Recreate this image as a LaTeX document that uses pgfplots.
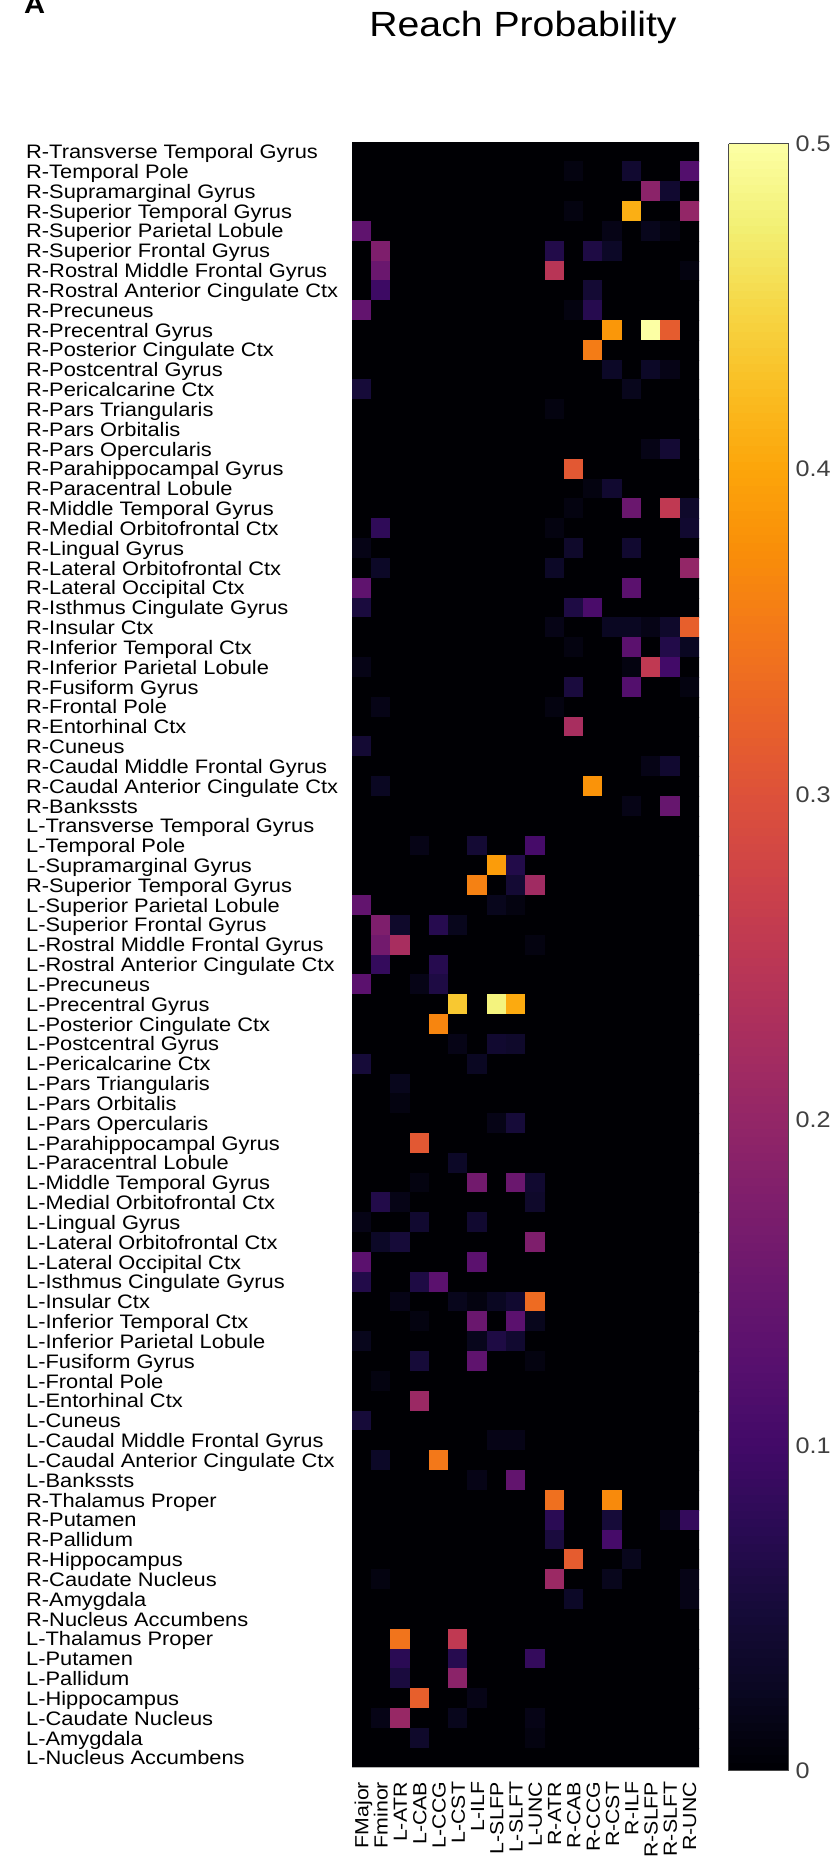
\documentclass[border=0pt]{standalone}
\usepackage{fontspec}
\setmainfont{Liberation Sans}[FakeStretch=1.12]
\usepackage{pgfplots}
\pgfplotsset{compat=1.18}
\definecolor{cbgray}{HTML}{4A4A4A}
\definecolor{lblgray}{HTML}{404040}
\begin{document}
\begin{tikzpicture}
\useasboundingbox (0,0) rectangle (834bp,-1861bp);
\node[anchor=base, inner sep=0pt, font=\fontsize{35bp}{40bp}\selectfont] at (523bp,-36bp) {Reach Probability};
\node[anchor=base west, inner sep=0pt, font=\fontsize{26bp}{30bp}\selectfont\bfseries] at (24bp,-13bp) {A};
\begin{axis}[
  at={(352bp,-1767.7bp)}, anchor=south west,
  scale only axis, width=347bp, height=1626bp,
  xmin=-0.5, xmax=17.5, ymin=-0.5, ymax=81.5, y dir=reverse,
  enlargelimits=false,
  axis line style={draw=none},
  major tick length=0pt,
  xtick={0,...,17}, ytick={0,...,81},
  xticklabels={FMajor,Fminor,L-ATR,L-CAB,L-CCG,L-CST,L-ILF,L-SLFP,L-SLFT,L-UNC,R-ATR,R-CAB,R-CCG,R-CST,R-ILF,R-SLFP,R-SLFT,R-UNC},
  yticklabels={R-Transverse Temporal Gyrus,R-Temporal Pole,R-Supramarginal Gyrus,R-Superior Temporal Gyrus,R-Superior Parietal Lobule,R-Superior Frontal Gyrus,R-Rostral Middle Frontal Gyrus,R-Rostral Anterior Cingulate Ctx,R-Precuneus,R-Precentral Gyrus,R-Posterior Cingulate Ctx,R-Postcentral Gyrus,R-Pericalcarine Ctx,R-Pars Triangularis,R-Pars Orbitalis,R-Pars Opercularis,R-Parahippocampal Gyrus,R-Paracentral Lobule,R-Middle Temporal Gyrus,R-Medial Orbitofrontal Ctx,R-Lingual Gyrus,R-Lateral Orbitofrontal Ctx,R-Lateral Occipital Ctx,R-Isthmus Cingulate Gyrus,R-Insular Ctx,R-Inferior Temporal Ctx,R-Inferior Parietal Lobule,R-Fusiform Gyrus,R-Frontal Pole,R-Entorhinal Ctx,R-Cuneus,R-Caudal Middle Frontal Gyrus,R-Caudal Anterior Cingulate Ctx,R-Bankssts,L-Transverse Temporal Gyrus,L-Temporal Pole,L-Supramarginal Gyrus,R-Superior Temporal Gyrus,L-Superior Parietal Lobule,L-Superior Frontal Gyrus,L-Rostral Middle Frontal Gyrus,L-Rostral Anterior Cingulate Ctx,L-Precuneus,L-Precentral Gyrus,L-Posterior Cingulate Ctx,L-Postcentral Gyrus,L-Pericalcarine Ctx,L-Pars Triangularis,L-Pars Orbitalis,L-Pars Opercularis,L-Parahippocampal Gyrus,L-Paracentral Lobule,L-Middle Temporal Gyrus,L-Medial Orbitofrontal Ctx,L-Lingual Gyrus,L-Lateral Orbitofrontal Ctx,L-Lateral Occipital Ctx,L-Isthmus Cingulate Gyrus,L-Insular Ctx,L-Inferior Temporal Ctx,L-Inferior Parietal Lobule,L-Fusiform Gyrus,L-Frontal Pole,L-Entorhinal Ctx,L-Cuneus,L-Caudal Middle Frontal Gyrus,L-Caudal Anterior Cingulate Ctx,L-Bankssts,R-Thalamus Proper,R-Putamen,R-Pallidum,R-Hippocampus,R-Caudate Nucleus,R-Amygdala,R-Nucleus Accumbens,L-Thalamus Proper,L-Putamen,L-Pallidum,L-Hippocampus,L-Caudate Nucleus,L-Amygdala,L-Nucleus Accumbens},
  yticklabel style={anchor=base west, inner sep=0pt, xshift=-326bp, yshift=-7bp, font=\fontsize{19.5bp}{20bp}\selectfont},
  xticklabel style={xshift=6.8bp, yshift=-14bp, rotate=90, anchor=base east, inner sep=0pt, font=\fontsize{19bp}{20bp}\selectfont},
  colormap={inferno}{rgb255=(0,0,4) rgb255=(10,7,34) rgb255=(22,11,57) rgb255=(42,11,84) rgb255=(66,10,104) rgb255=(87,16,110) rgb255=(106,23,110) rgb255=(126,30,108) rgb255=(147,38,103) rgb255=(168,46,95) rgb255=(188,55,84) rgb255=(206,67,72) rgb255=(221,81,58) rgb255=(234,99,40) rgb255=(243,120,25) rgb255=(249,142,9) rgb255=(252,165,10) rgb255=(250,190,35) rgb255=(246,215,70) rgb255=(242,240,116) rgb255=(252,255,164)},
  point meta min=0, point meta max=0.5,
  colorbar sampled,
  colorbar style={
    at={(parent axis.north east)}, anchor=north west, xshift=21bp, yshift=-2bp,
    scale only axis, width=60bp, height=1627bp,
    samples=201,
    ytick={0,0.1,0.2,0.3,0.4,0.5},
    major tick length=0pt,
    axis line style={draw=cbgray, line width=1.3bp},
    axis on top,
    /pgf/number format/assume math mode=true,
    /pgf/number format/fixed,
    yticklabel style={inner sep=0pt, xshift=7bp, text=lblgray, font=\fontsize{22.5bp}{24bp}\selectfont},
  },
  extra description/.code={\draw[gray!60, line width=1bp] (axis description cs:0,0) -- (axis description cs:1,0);},
]
\addplot[matrix plot*, mesh/cols=18, point meta=explicit]
  table[row sep=\\, header=false, x expr={round(mod(\coordindex,18))}, y expr={round((\coordindex-mod(\coordindex,18))/18)}, meta index=0] {
0 \\ 0 \\ 0 \\ 0 \\ 0 \\ 0 \\ 0 \\ 0 \\ 0 \\ 0 \\ 0 \\ 0 \\ 0 \\ 0 \\ 0 \\ 0 \\ 0 \\ 0 \\
0 \\ 0 \\ 0 \\ 0 \\ 0 \\ 0 \\ 0 \\ 0 \\ 0 \\ 0 \\ 0 \\ 0.01 \\ 0 \\ 0 \\ 0.04 \\ 0 \\ 0 \\ 0.12 \\
0 \\ 0 \\ 0 \\ 0 \\ 0 \\ 0 \\ 0 \\ 0 \\ 0 \\ 0 \\ 0 \\ 0 \\ 0 \\ 0 \\ 0 \\ 0.19 \\ 0.04 \\ 0 \\
0 \\ 0 \\ 0 \\ 0 \\ 0 \\ 0 \\ 0 \\ 0 \\ 0 \\ 0 \\ 0 \\ 0.01 \\ 0 \\ 0 \\ 0.41 \\ 0 \\ 0 \\ 0.2 \\
0.135 \\ 0 \\ 0 \\ 0 \\ 0 \\ 0 \\ 0 \\ 0 \\ 0 \\ 0 \\ 0 \\ 0 \\ 0 \\ 0.015 \\ 0 \\ 0.02 \\ 0.01 \\ 0 \\
0 \\ 0.175 \\ 0 \\ 0 \\ 0 \\ 0 \\ 0 \\ 0 \\ 0 \\ 0 \\ 0.065 \\ 0 \\ 0.06 \\ 0.03 \\ 0 \\ 0 \\ 0 \\ 0 \\
0 \\ 0.15 \\ 0 \\ 0 \\ 0 \\ 0 \\ 0 \\ 0 \\ 0 \\ 0 \\ 0.245 \\ 0 \\ 0 \\ 0 \\ 0 \\ 0 \\ 0 \\ 0.01 \\
0 \\ 0.095 \\ 0 \\ 0 \\ 0 \\ 0 \\ 0 \\ 0 \\ 0 \\ 0 \\ 0 \\ 0 \\ 0.045 \\ 0 \\ 0 \\ 0 \\ 0 \\ 0 \\
0.14 \\ 0 \\ 0 \\ 0 \\ 0 \\ 0 \\ 0 \\ 0 \\ 0 \\ 0 \\ 0 \\ 0.01 \\ 0.07 \\ 0 \\ 0 \\ 0 \\ 0 \\ 0 \\
0 \\ 0 \\ 0 \\ 0 \\ 0 \\ 0 \\ 0 \\ 0 \\ 0 \\ 0 \\ 0 \\ 0 \\ 0 \\ 0.385 \\ 0 \\ 0.5 \\ 0.315 \\ 0 \\
0 \\ 0 \\ 0 \\ 0 \\ 0 \\ 0 \\ 0 \\ 0 \\ 0 \\ 0 \\ 0 \\ 0 \\ 0.355 \\ 0 \\ 0 \\ 0 \\ 0 \\ 0 \\
0 \\ 0 \\ 0 \\ 0 \\ 0 \\ 0 \\ 0 \\ 0 \\ 0 \\ 0 \\ 0 \\ 0 \\ 0 \\ 0.03 \\ 0 \\ 0.03 \\ 0.015 \\ 0 \\
0.05 \\ 0 \\ 0 \\ 0 \\ 0 \\ 0 \\ 0 \\ 0 \\ 0 \\ 0 \\ 0 \\ 0 \\ 0 \\ 0 \\ 0.02 \\ 0 \\ 0 \\ 0 \\
0 \\ 0 \\ 0 \\ 0 \\ 0 \\ 0 \\ 0 \\ 0 \\ 0 \\ 0 \\ 0.01 \\ 0 \\ 0 \\ 0 \\ 0 \\ 0 \\ 0 \\ 0 \\
0 \\ 0 \\ 0 \\ 0 \\ 0 \\ 0 \\ 0 \\ 0 \\ 0 \\ 0 \\ 0 \\ 0 \\ 0 \\ 0 \\ 0 \\ 0 \\ 0 \\ 0 \\
0 \\ 0 \\ 0 \\ 0 \\ 0 \\ 0 \\ 0 \\ 0 \\ 0 \\ 0 \\ 0 \\ 0 \\ 0 \\ 0 \\ 0 \\ 0.015 \\ 0.045 \\ 0 \\
0 \\ 0 \\ 0 \\ 0 \\ 0 \\ 0 \\ 0 \\ 0 \\ 0 \\ 0 \\ 0 \\ 0.31 \\ 0 \\ 0 \\ 0 \\ 0 \\ 0 \\ 0 \\
0 \\ 0 \\ 0 \\ 0 \\ 0 \\ 0 \\ 0 \\ 0 \\ 0 \\ 0 \\ 0 \\ 0 \\ 0.01 \\ 0.04 \\ 0 \\ 0 \\ 0 \\ 0 \\
0 \\ 0 \\ 0 \\ 0 \\ 0 \\ 0 \\ 0 \\ 0 \\ 0 \\ 0 \\ 0 \\ 0.01 \\ 0 \\ 0 \\ 0.15 \\ 0 \\ 0.255 \\ 0.035 \\
0 \\ 0.08 \\ 0 \\ 0 \\ 0 \\ 0 \\ 0 \\ 0 \\ 0 \\ 0 \\ 0.01 \\ 0 \\ 0 \\ 0 \\ 0 \\ 0 \\ 0 \\ 0.04 \\
0.015 \\ 0 \\ 0 \\ 0 \\ 0 \\ 0 \\ 0 \\ 0 \\ 0 \\ 0 \\ 0 \\ 0.035 \\ 0 \\ 0 \\ 0.04 \\ 0 \\ 0 \\ 0 \\
0 \\ 0.03 \\ 0 \\ 0 \\ 0 \\ 0 \\ 0 \\ 0 \\ 0 \\ 0 \\ 0.03 \\ 0 \\ 0 \\ 0 \\ 0 \\ 0 \\ 0 \\ 0.2 \\
0.135 \\ 0 \\ 0 \\ 0 \\ 0 \\ 0 \\ 0 \\ 0 \\ 0 \\ 0 \\ 0 \\ 0 \\ 0 \\ 0 \\ 0.13 \\ 0 \\ 0 \\ 0 \\
0.055 \\ 0 \\ 0 \\ 0 \\ 0 \\ 0 \\ 0 \\ 0 \\ 0 \\ 0 \\ 0 \\ 0.06 \\ 0.11 \\ 0 \\ 0 \\ 0 \\ 0 \\ 0 \\
0 \\ 0 \\ 0 \\ 0 \\ 0 \\ 0 \\ 0 \\ 0 \\ 0 \\ 0 \\ 0.015 \\ 0 \\ 0 \\ 0.025 \\ 0.025 \\ 0.015 \\ 0.035 \\ 0.32 \\
0 \\ 0 \\ 0 \\ 0 \\ 0 \\ 0 \\ 0 \\ 0 \\ 0 \\ 0 \\ 0 \\ 0.01 \\ 0 \\ 0 \\ 0.13 \\ 0 \\ 0.065 \\ 0.025 \\
0.015 \\ 0 \\ 0 \\ 0 \\ 0 \\ 0 \\ 0 \\ 0 \\ 0 \\ 0 \\ 0 \\ 0 \\ 0 \\ 0 \\ 0.01 \\ 0.255 \\ 0.1 \\ 0 \\
0 \\ 0 \\ 0 \\ 0 \\ 0 \\ 0 \\ 0 \\ 0 \\ 0 \\ 0 \\ 0 \\ 0.055 \\ 0 \\ 0 \\ 0.12 \\ 0 \\ 0 \\ 0.01 \\
0 \\ 0.015 \\ 0 \\ 0 \\ 0 \\ 0 \\ 0 \\ 0 \\ 0 \\ 0 \\ 0.01 \\ 0 \\ 0 \\ 0 \\ 0 \\ 0 \\ 0 \\ 0 \\
0 \\ 0 \\ 0 \\ 0 \\ 0 \\ 0 \\ 0 \\ 0 \\ 0 \\ 0 \\ 0 \\ 0.225 \\ 0 \\ 0 \\ 0 \\ 0 \\ 0 \\ 0 \\
0.045 \\ 0 \\ 0 \\ 0 \\ 0 \\ 0 \\ 0 \\ 0 \\ 0 \\ 0 \\ 0 \\ 0 \\ 0 \\ 0 \\ 0 \\ 0 \\ 0 \\ 0 \\
0 \\ 0 \\ 0 \\ 0 \\ 0 \\ 0 \\ 0 \\ 0 \\ 0 \\ 0 \\ 0 \\ 0 \\ 0 \\ 0 \\ 0 \\ 0.015 \\ 0.04 \\ 0 \\
0 \\ 0.025 \\ 0 \\ 0 \\ 0 \\ 0 \\ 0 \\ 0 \\ 0 \\ 0 \\ 0 \\ 0 \\ 0.38 \\ 0 \\ 0 \\ 0 \\ 0 \\ 0 \\
0 \\ 0 \\ 0 \\ 0 \\ 0 \\ 0 \\ 0 \\ 0 \\ 0 \\ 0 \\ 0 \\ 0 \\ 0 \\ 0 \\ 0.015 \\ 0 \\ 0.145 \\ 0 \\
0 \\ 0 \\ 0 \\ 0 \\ 0 \\ 0 \\ 0 \\ 0 \\ 0 \\ 0 \\ 0 \\ 0 \\ 0 \\ 0 \\ 0 \\ 0 \\ 0 \\ 0 \\
0 \\ 0 \\ 0 \\ 0.015 \\ 0 \\ 0 \\ 0.045 \\ 0 \\ 0 \\ 0.105 \\ 0 \\ 0 \\ 0 \\ 0 \\ 0 \\ 0 \\ 0 \\ 0 \\
0 \\ 0 \\ 0 \\ 0 \\ 0 \\ 0 \\ 0 \\ 0.39 \\ 0.065 \\ 0 \\ 0 \\ 0 \\ 0 \\ 0 \\ 0 \\ 0 \\ 0 \\ 0 \\
0 \\ 0 \\ 0 \\ 0 \\ 0 \\ 0 \\ 0.36 \\ 0 \\ 0.045 \\ 0.215 \\ 0 \\ 0 \\ 0 \\ 0 \\ 0 \\ 0 \\ 0 \\ 0 \\
0.14 \\ 0 \\ 0 \\ 0 \\ 0 \\ 0 \\ 0 \\ 0.02 \\ 0.01 \\ 0 \\ 0 \\ 0 \\ 0 \\ 0 \\ 0 \\ 0 \\ 0 \\ 0 \\
0 \\ 0.175 \\ 0.035 \\ 0 \\ 0.07 \\ 0.02 \\ 0 \\ 0 \\ 0 \\ 0 \\ 0 \\ 0 \\ 0 \\ 0 \\ 0 \\ 0 \\ 0 \\ 0 \\
0 \\ 0.16 \\ 0.225 \\ 0 \\ 0 \\ 0 \\ 0 \\ 0 \\ 0 \\ 0.01 \\ 0 \\ 0 \\ 0 \\ 0 \\ 0 \\ 0 \\ 0 \\ 0 \\
0 \\ 0.085 \\ 0 \\ 0 \\ 0.07 \\ 0 \\ 0 \\ 0 \\ 0 \\ 0 \\ 0 \\ 0 \\ 0 \\ 0 \\ 0 \\ 0 \\ 0 \\ 0 \\
0.13 \\ 0 \\ 0 \\ 0.015 \\ 0.06 \\ 0 \\ 0 \\ 0 \\ 0 \\ 0 \\ 0 \\ 0 \\ 0 \\ 0 \\ 0 \\ 0 \\ 0 \\ 0 \\
0 \\ 0 \\ 0 \\ 0 \\ 0 \\ 0.435 \\ 0 \\ 0.48 \\ 0.405 \\ 0 \\ 0 \\ 0 \\ 0 \\ 0 \\ 0 \\ 0 \\ 0 \\ 0 \\
0 \\ 0 \\ 0 \\ 0 \\ 0.365 \\ 0 \\ 0 \\ 0 \\ 0 \\ 0 \\ 0 \\ 0 \\ 0 \\ 0 \\ 0 \\ 0 \\ 0 \\ 0 \\
0 \\ 0 \\ 0 \\ 0 \\ 0 \\ 0.015 \\ 0 \\ 0.04 \\ 0.035 \\ 0 \\ 0 \\ 0 \\ 0 \\ 0 \\ 0 \\ 0 \\ 0 \\ 0 \\
0.05 \\ 0 \\ 0 \\ 0 \\ 0 \\ 0 \\ 0.025 \\ 0 \\ 0 \\ 0 \\ 0 \\ 0 \\ 0 \\ 0 \\ 0 \\ 0 \\ 0 \\ 0 \\
0 \\ 0 \\ 0.02 \\ 0 \\ 0 \\ 0 \\ 0 \\ 0 \\ 0 \\ 0 \\ 0 \\ 0 \\ 0 \\ 0 \\ 0 \\ 0 \\ 0 \\ 0 \\
0 \\ 0 \\ 0.01 \\ 0 \\ 0 \\ 0 \\ 0 \\ 0 \\ 0 \\ 0 \\ 0 \\ 0 \\ 0 \\ 0 \\ 0 \\ 0 \\ 0 \\ 0 \\
0 \\ 0 \\ 0 \\ 0 \\ 0 \\ 0 \\ 0 \\ 0.015 \\ 0.05 \\ 0 \\ 0 \\ 0 \\ 0 \\ 0 \\ 0 \\ 0 \\ 0 \\ 0 \\
0 \\ 0 \\ 0 \\ 0.31 \\ 0 \\ 0 \\ 0 \\ 0 \\ 0 \\ 0 \\ 0 \\ 0 \\ 0 \\ 0 \\ 0 \\ 0 \\ 0 \\ 0 \\
0 \\ 0 \\ 0 \\ 0 \\ 0 \\ 0.03 \\ 0 \\ 0 \\ 0 \\ 0 \\ 0 \\ 0 \\ 0 \\ 0 \\ 0 \\ 0 \\ 0 \\ 0 \\
0 \\ 0 \\ 0 \\ 0.01 \\ 0 \\ 0 \\ 0.16 \\ 0 \\ 0.15 \\ 0.04 \\ 0 \\ 0 \\ 0 \\ 0 \\ 0 \\ 0 \\ 0 \\ 0 \\
0 \\ 0.065 \\ 0.015 \\ 0 \\ 0 \\ 0 \\ 0 \\ 0 \\ 0 \\ 0.035 \\ 0 \\ 0 \\ 0 \\ 0 \\ 0 \\ 0 \\ 0 \\ 0 \\
0.015 \\ 0 \\ 0 \\ 0.04 \\ 0 \\ 0 \\ 0.04 \\ 0 \\ 0 \\ 0 \\ 0 \\ 0 \\ 0 \\ 0 \\ 0 \\ 0 \\ 0 \\ 0 \\
0 \\ 0.03 \\ 0.05 \\ 0 \\ 0 \\ 0 \\ 0 \\ 0 \\ 0 \\ 0.175 \\ 0 \\ 0 \\ 0 \\ 0 \\ 0 \\ 0 \\ 0 \\ 0 \\
0.13 \\ 0 \\ 0 \\ 0 \\ 0 \\ 0 \\ 0.13 \\ 0 \\ 0 \\ 0 \\ 0 \\ 0 \\ 0 \\ 0 \\ 0 \\ 0 \\ 0 \\ 0 \\
0.065 \\ 0 \\ 0 \\ 0.06 \\ 0.13 \\ 0 \\ 0 \\ 0 \\ 0 \\ 0 \\ 0 \\ 0 \\ 0 \\ 0 \\ 0 \\ 0 \\ 0 \\ 0 \\
0 \\ 0 \\ 0.015 \\ 0 \\ 0 \\ 0.02 \\ 0.01 \\ 0.025 \\ 0.04 \\ 0.335 \\ 0 \\ 0 \\ 0 \\ 0 \\ 0 \\ 0 \\ 0 \\ 0 \\
0 \\ 0 \\ 0 \\ 0.01 \\ 0 \\ 0 \\ 0.15 \\ 0 \\ 0.13 \\ 0.02 \\ 0 \\ 0 \\ 0 \\ 0 \\ 0 \\ 0 \\ 0 \\ 0 \\
0.02 \\ 0 \\ 0 \\ 0 \\ 0 \\ 0 \\ 0.02 \\ 0.06 \\ 0.04 \\ 0 \\ 0 \\ 0 \\ 0 \\ 0 \\ 0 \\ 0 \\ 0 \\ 0 \\
0 \\ 0 \\ 0 \\ 0.05 \\ 0 \\ 0 \\ 0.135 \\ 0 \\ 0 \\ 0.01 \\ 0 \\ 0 \\ 0 \\ 0 \\ 0 \\ 0 \\ 0 \\ 0 \\
0 \\ 0.01 \\ 0 \\ 0 \\ 0 \\ 0 \\ 0 \\ 0 \\ 0 \\ 0 \\ 0 \\ 0 \\ 0 \\ 0 \\ 0 \\ 0 \\ 0 \\ 0 \\
0 \\ 0 \\ 0 \\ 0.21 \\ 0 \\ 0 \\ 0 \\ 0 \\ 0 \\ 0 \\ 0 \\ 0 \\ 0 \\ 0 \\ 0 \\ 0 \\ 0 \\ 0 \\
0.05 \\ 0 \\ 0 \\ 0 \\ 0 \\ 0 \\ 0 \\ 0 \\ 0 \\ 0 \\ 0 \\ 0 \\ 0 \\ 0 \\ 0 \\ 0 \\ 0 \\ 0 \\
0 \\ 0 \\ 0 \\ 0 \\ 0 \\ 0 \\ 0 \\ 0.015 \\ 0.015 \\ 0 \\ 0 \\ 0 \\ 0 \\ 0 \\ 0 \\ 0 \\ 0 \\ 0 \\
0 \\ 0.03 \\ 0 \\ 0 \\ 0.35 \\ 0 \\ 0 \\ 0 \\ 0 \\ 0 \\ 0 \\ 0 \\ 0 \\ 0 \\ 0 \\ 0 \\ 0 \\ 0 \\
0 \\ 0 \\ 0 \\ 0 \\ 0 \\ 0 \\ 0.015 \\ 0 \\ 0.14 \\ 0 \\ 0 \\ 0 \\ 0 \\ 0 \\ 0 \\ 0 \\ 0 \\ 0 \\
0 \\ 0 \\ 0 \\ 0 \\ 0 \\ 0 \\ 0 \\ 0 \\ 0 \\ 0 \\ 0.34 \\ 0 \\ 0 \\ 0.37 \\ 0 \\ 0 \\ 0 \\ 0 \\
0 \\ 0 \\ 0 \\ 0 \\ 0 \\ 0 \\ 0 \\ 0 \\ 0 \\ 0 \\ 0.075 \\ 0 \\ 0 \\ 0.05 \\ 0 \\ 0 \\ 0.015 \\ 0.085 \\
0 \\ 0 \\ 0 \\ 0 \\ 0 \\ 0 \\ 0 \\ 0 \\ 0 \\ 0 \\ 0.055 \\ 0 \\ 0 \\ 0.105 \\ 0 \\ 0 \\ 0 \\ 0 \\
0 \\ 0 \\ 0 \\ 0 \\ 0 \\ 0 \\ 0 \\ 0 \\ 0 \\ 0 \\ 0 \\ 0.315 \\ 0 \\ 0 \\ 0.02 \\ 0 \\ 0 \\ 0 \\
0 \\ 0.01 \\ 0 \\ 0 \\ 0 \\ 0 \\ 0 \\ 0 \\ 0 \\ 0 \\ 0.21 \\ 0 \\ 0 \\ 0.02 \\ 0 \\ 0 \\ 0 \\ 0.015 \\
0 \\ 0 \\ 0 \\ 0 \\ 0 \\ 0 \\ 0 \\ 0 \\ 0 \\ 0 \\ 0 \\ 0.03 \\ 0 \\ 0 \\ 0 \\ 0 \\ 0 \\ 0.015 \\
0 \\ 0 \\ 0 \\ 0 \\ 0 \\ 0 \\ 0 \\ 0 \\ 0 \\ 0 \\ 0 \\ 0 \\ 0 \\ 0 \\ 0 \\ 0 \\ 0 \\ 0 \\
0 \\ 0 \\ 0.345 \\ 0 \\ 0 \\ 0.255 \\ 0 \\ 0 \\ 0 \\ 0 \\ 0 \\ 0 \\ 0 \\ 0 \\ 0 \\ 0 \\ 0 \\ 0 \\
0 \\ 0 \\ 0.075 \\ 0 \\ 0 \\ 0.07 \\ 0 \\ 0 \\ 0 \\ 0.085 \\ 0 \\ 0 \\ 0 \\ 0 \\ 0 \\ 0 \\ 0 \\ 0 \\
0 \\ 0 \\ 0.055 \\ 0 \\ 0 \\ 0.19 \\ 0 \\ 0 \\ 0 \\ 0 \\ 0 \\ 0 \\ 0 \\ 0 \\ 0 \\ 0 \\ 0 \\ 0 \\
0 \\ 0 \\ 0 \\ 0.32 \\ 0 \\ 0 \\ 0.015 \\ 0 \\ 0 \\ 0 \\ 0 \\ 0 \\ 0 \\ 0 \\ 0 \\ 0 \\ 0 \\ 0 \\
0 \\ 0.015 \\ 0.205 \\ 0 \\ 0 \\ 0.02 \\ 0 \\ 0 \\ 0 \\ 0.015 \\ 0 \\ 0 \\ 0 \\ 0 \\ 0 \\ 0 \\ 0 \\ 0 \\
0 \\ 0 \\ 0 \\ 0.035 \\ 0 \\ 0 \\ 0 \\ 0 \\ 0 \\ 0.01 \\ 0 \\ 0 \\ 0 \\ 0 \\ 0 \\ 0 \\ 0 \\ 0 \\
0 \\ 0 \\ 0 \\ 0 \\ 0 \\ 0 \\ 0 \\ 0 \\ 0 \\ 0 \\ 0 \\ 0 \\ 0 \\ 0 \\ 0 \\ 0 \\ 0 \\ 0 \\
};
\end{axis}
\end{tikzpicture}
\end{document}
